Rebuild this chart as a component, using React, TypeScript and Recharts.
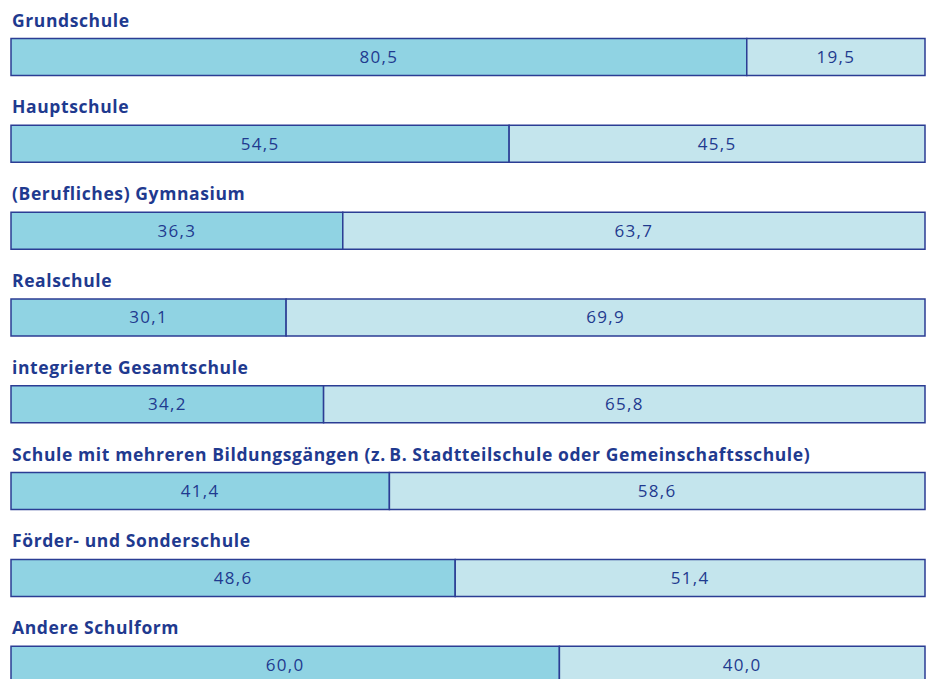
import React from "react";
import { BarChart, Bar, XAxis, YAxis, LabelList } from "recharts";

const categories = [
  "Grundschule",
  "Hauptschule",
  "(Berufliches) Gymnasium",
  "Realschule",
  "integrierte Gesamtschule",
  "Schule mit mehreren Bildungsgängen (z.\u2009B. Stadtteilschule oder Gemeinschaftsschule)",
  "Förder- und Sonderschule",
  "Andere Schulform",
];
const darkValues = [80.5, 54.5, 36.3, 30.1, 34.2, 41.4, 48.6, 60.0];
const lightValues = [19.5, 45.5, 63.7, 69.9, 65.8, 58.6, 51.4, 40.0];

const data = categories.map((name, i) => ({ name, a: darkValues[i], b: lightValues[i] }));

const NAVY = "#1f3a8f";
const BORDER = "#2b3d94";
const DARK = "#90d3e3";
const LIGHT = "#c4e5ed";

const fmt = (v: any) => Number(v).toFixed(1).replace(".", ",");

const TitleLabel = (props: any) => {
  const { y, value } = props;
  return (
    <text
      x={12}
      y={Number(y) - 12}
      fill={NAVY}
      fontFamily="'Open Sans', sans-serif"
      fontWeight={700}
      fontSize={17.5}
      letterSpacing={0.6}
      textAnchor="start"
    >
      {value}
    </text>
  );
};

export default function App() {
  return (
    <div
      style={{
        position: "absolute",
        left: 0,
        top: 0,
        width: 933,
        height: 679,
        overflow: "hidden",
        background: "#fff",
      }}
    >
      <BarChart
        width={933}
        height={708}
        data={data}
        layout="vertical"
        margin={{ top: 13.5, right: 8, bottom: 0, left: 11 }}
      >
        <XAxis type="number" domain={[0, 100]} hide />
        <YAxis type="category" dataKey="name" hide />
        <Bar
          dataKey="a"
          stackId="s"
          fill={DARK}
          stroke={BORDER}
          strokeWidth={1.5}
          barSize={37}
          isAnimationActive={false}
        >
          <LabelList dataKey="name" content={<TitleLabel />} />
          <LabelList
            dataKey="a"
            position="center"
            formatter={fmt}
            fill={NAVY}
            fontSize={17}
            letterSpacing={1.3}
            fontFamily="'Open Sans', sans-serif"
          />
        </Bar>
        <Bar
          dataKey="b"
          stackId="s"
          fill={LIGHT}
          stroke={BORDER}
          strokeWidth={1.5}
          barSize={37}
          isAnimationActive={false}
        >
          <LabelList
            dataKey="b"
            position="center"
            formatter={fmt}
            fill={NAVY}
            fontSize={17}
            letterSpacing={1.3}
            fontFamily="'Open Sans', sans-serif"
          />
        </Bar>
      </BarChart>
    </div>
  );
}
